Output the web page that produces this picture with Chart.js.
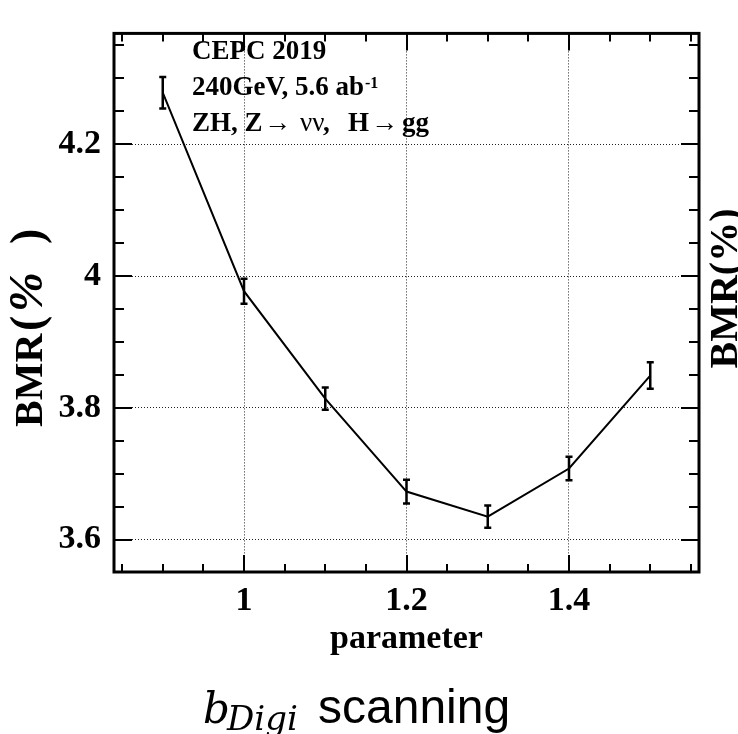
<!DOCTYPE html>
<html>
<head>
<meta charset="utf-8">
<script src="https://cdn.jsdelivr.net/npm/chart.js@4/dist/chart.umd.min.js"></script>
<style>
  html, body { margin: 0; padding: 0; background: #fff; }
  #wrap { position: relative; width: 738px; height: 734px; overflow: hidden; background: #fff; }
  #c { position: absolute; left: 0; top: 0; }
  .cap { position: absolute; line-height: 1; white-space: nowrap; color: #000; }
</style>
</head>
<body>
<div id="wrap">
  <canvas id="c" width="738" height="734"></canvas>
  <span class="cap" style="left:203px; top:684px; font: italic 42px 'DejaVu Serif';">b</span>
  <span class="cap" style="left:227px; top:698px; font: italic 34px 'DejaVu Serif';">Digi</span>
  <span class="cap" style="left:318px; top:679px; font: 48px 'Liberation Sans', Arial, sans-serif;">scanning</span>
</div>
<script>
// ---- data ----
const paramValues = [0.9, 1.0, 1.1, 1.2, 1.3, 1.4, 1.5];
const bmrValues   = [4.278, 3.977, 3.814, 3.673, 3.635, 3.708, 3.849];
const bmrErrors   = [0.024, 0.019, 0.017, 0.018, 0.017, 0.018, 0.020];
const xTickValues = [1.0, 1.2, 1.4];
const xTickLabels = ['1', '1.2', '1.4'];
const yTickValues = [3.6, 3.8, 4.0, 4.2];
const yTickLabels = ['3.6', '3.8', '4', '4.2'];
const xTitle = 'parameter';
const yTitle = 'BMR(%)';
const infoLines = ['CEPC 2019', '240GeV, 5.6 ab', '-1'];

const SERIF = '"Liberation Serif", "Times New Roman", serif';

// frame, inner ticks, error bars, annotations
const decoPlugin = {
  id: 'deco',
  afterDatasetsDraw(chart) {
    const ctx = chart.ctx;
    const xs = chart.scales.x, ys = chart.scales.y;
    ctx.save();
    ctx.strokeStyle = '#000';
    ctx.lineWidth = 2.5;
    for (let i = 0; i < paramValues.length; i++) {
      const px = xs.getPixelForValue(paramValues[i]);
      const pt = ys.getPixelForValue(bmrValues[i] + bmrErrors[i]);
      const pb = ys.getPixelForValue(bmrValues[i] - bmrErrors[i]);
      ctx.beginPath();
      ctx.moveTo(px, pt); ctx.lineTo(px, pb);
      ctx.moveTo(px - 3.5, pt); ctx.lineTo(px + 3.5, pt);
      ctx.moveTo(px - 3.5, pb); ctx.lineTo(px + 3.5, pb);
      ctx.stroke();
    }
    ctx.restore();
  },
  afterDraw(chart) {
    const ctx = chart.ctx;
    const a = chart.chartArea;
    const xs = chart.scales.x, ys = chart.scales.y;
    ctx.save();
    ctx.strokeStyle = '#000';
    ctx.lineWidth = 2;
    // x ticks (bottom and top), every 0.05
    for (let k = Math.ceil(xs.min / 0.05 - 1e-6); k * 0.05 <= xs.max + 1e-9; k++) {
      const v = k * 0.05;
      const major = Math.abs(v / 0.2 - Math.round(v / 0.2)) < 1e-6;
      const len = major ? 17 : 8;
      const p = Math.round(xs.getPixelForValue(v));
      if (p <= a.left + 2 || p >= a.right - 2) continue;
      ctx.beginPath();
      ctx.moveTo(p, a.bottom); ctx.lineTo(p, a.bottom - len);
      ctx.moveTo(p, a.top); ctx.lineTo(p, a.top + len);
      ctx.stroke();
    }
    // y ticks (left and right)
    for (let k = Math.ceil(ys.min / 0.05 - 1e-6); k * 0.05 <= ys.max + 1e-9; k++) {
      const v = k * 0.05;
      const major = Math.abs(v / 0.2 - Math.round(v / 0.2)) < 1e-6;
      const len = major ? 18 : 10;
      const p = Math.round(ys.getPixelForValue(v));
      if (p <= a.top + 2 || p >= a.bottom - 2) continue;
      ctx.beginPath();
      ctx.moveTo(a.left, p); ctx.lineTo(a.left + len, p);
      ctx.moveTo(a.right, p); ctx.lineTo(a.right - len, p);
      ctx.stroke();
    }
    // frame
    ctx.lineWidth = 3;
    ctx.strokeRect(a.left, a.top, a.right - a.left, a.bottom - a.top);

    // annotation text
    ctx.fillStyle = '#000';
    ctx.textBaseline = 'alphabetic';
    ctx.textAlign = 'left';
    ctx.font = 'bold 27px ' + SERIF;
    ctx.fillText(infoLines[0], 192, 59);
    ctx.fillText(infoLines[1], 192, 95);
    const w2 = ctx.measureText(infoLines[1]).width;
    ctx.font = 'bold 16px ' + SERIF;
    ctx.fillText(infoLines[2], 192 + w2 + 1, 88);
    // line 3: ZH, Z→ νν, H→ gg
    ctx.font = 'bold 27px ' + SERIF;
    ctx.fillText('ZH, Z', 192, 131);
    ctx.font = '27px ' + SERIF;
    ctx.fillText('\u2192', 264, 131);
    ctx.fillText('\u03bd\u03bd', 300, 131);
    ctx.font = 'bold 27px ' + SERIF;
    ctx.fillText(',', 323, 131);
    ctx.fillText('H', 348, 131);
    ctx.font = '27px ' + SERIF;
    ctx.fillText('\u2192', 371, 131);
    ctx.font = 'bold 27px ' + SERIF;
    ctx.fillText('gg', 402, 131);

    // left y title (rotated)
    ctx.save();
    ctx.translate(41.5, 0);
    ctx.rotate(-Math.PI / 2);
    ctx.font = 'bold 40px ' + SERIF;
    ctx.fillText('BMR', -427, 0);
    ctx.font = 'bold 46px ' + SERIF;
    ctx.fillText('(', -331, 0);
    ctx.font = 'italic bold 48px ' + SERIF;
    ctx.fillText('%', -312, 0);
    ctx.font = 'bold 46px ' + SERIF;
    ctx.fillText(')', -244, 0);
    ctx.restore();
    // right y title (rotated, partly cut by the edge)
    ctx.save();
    ctx.translate(737, 288.5);
    ctx.rotate(-Math.PI / 2);
    ctx.textAlign = 'center';
    ctx.font = 'bold 40px ' + SERIF;
    ctx.fillText(yTitle, 0, 0);
    ctx.restore();
    ctx.restore();
  }
};

const tickFont = { family: SERIF, size: 34, weight: 'bold' };

new Chart(document.getElementById('c'), {
  type: 'line',
  data: {
    datasets: [{
      data: paramValues.map((x, i) => ({ x: x, y: bmrValues[i] })),
      borderColor: '#000',
      borderWidth: 2,
      pointRadius: 0,
      tension: 0,
      fill: false
    }]
  },
  options: {
    responsive: false,
    animation: false,
    layout: { padding: { top: 12, right: 39, left: 0, bottom: 0 } },
    plugins: { legend: { display: false }, tooltip: { enabled: false } },
    scales: {
      x: {
        type: 'linear',
        min: 0.84, max: 1.56,
        afterBuildTicks: s => { s.ticks = xTickValues.map(v => ({ value: v })); },
        afterFit: s => { s.height = 162; },
        grid: { color: '#222', lineWidth: 1, drawTicks: false },
        border: { display: false, dash: [1, 2] },
        ticks: {
          padding: 9, color: '#000', font: tickFont, maxRotation: 0,
          callback: (v, i) => xTickLabels[i]
        },
        title: {
          display: true, text: xTitle, color: '#000',
          font: { family: SERIF, size: 34, weight: 'bold' },
          padding: { top: 0, bottom: 74 }
        }
      },
      y: {
        type: 'linear',
        min: 3.551, max: 4.368,
        afterBuildTicks: s => { s.ticks = yTickValues.map(v => ({ value: v })); },
        afterFit: s => { s.width = 114; },
        grid: { color: '#222', lineWidth: 1, drawTicks: false },
        border: { display: false, dash: [1, 2] },
        ticks: {
          padding: 13, color: '#000', font: tickFont,
          callback: (v, i) => yTickLabels[i]
        }
      }
    }
  },
  plugins: [decoPlugin]
});
</script>
</body>
</html>
